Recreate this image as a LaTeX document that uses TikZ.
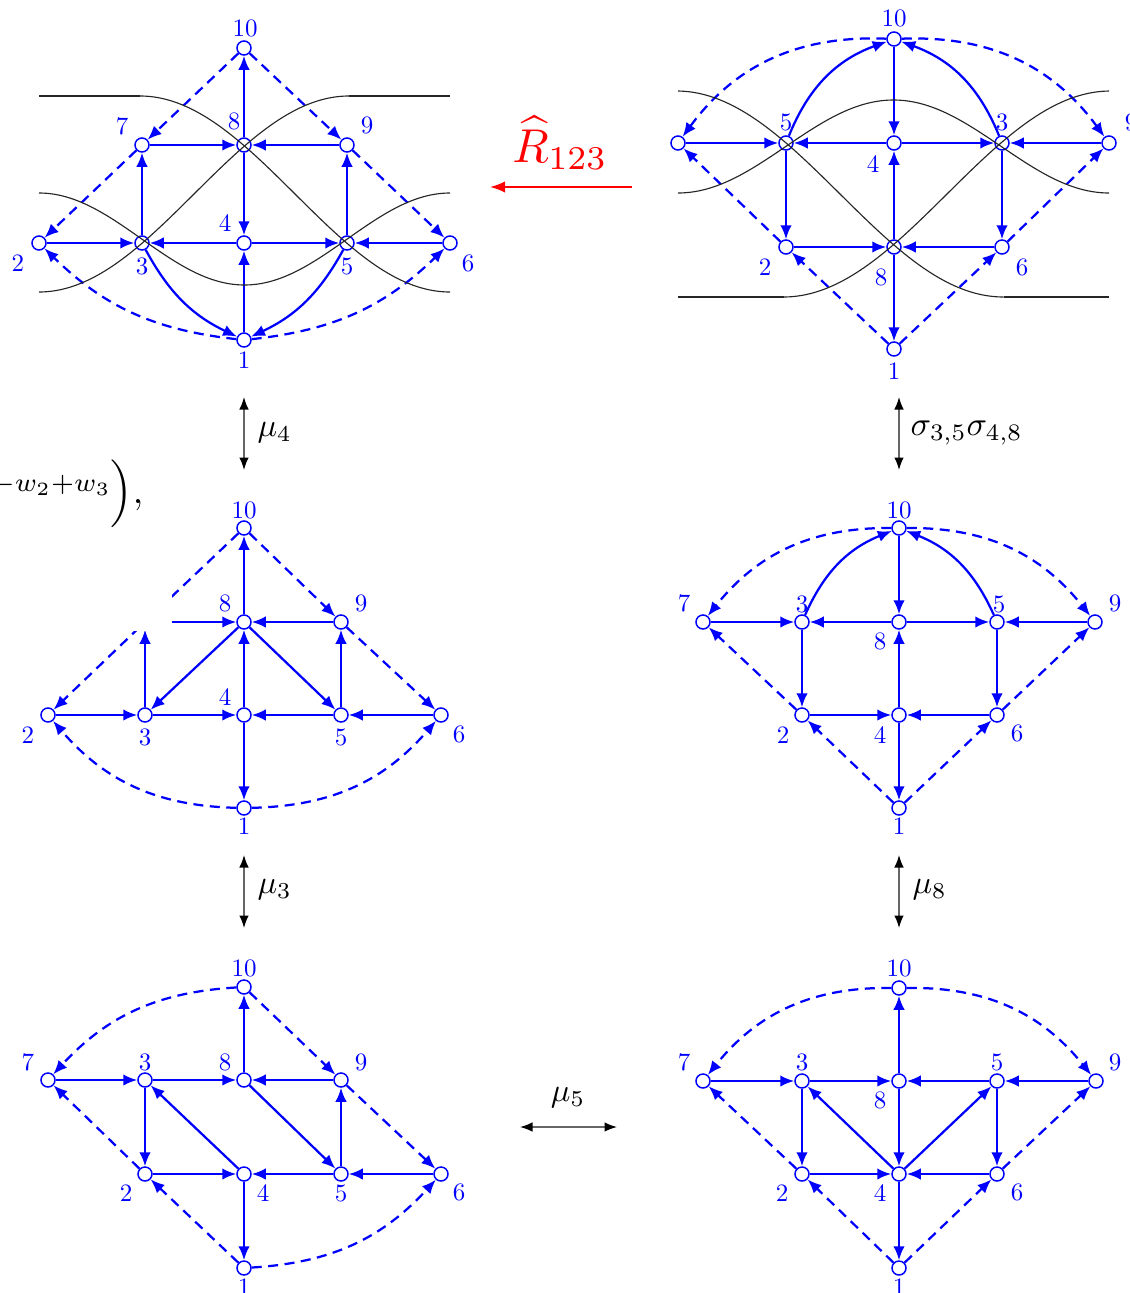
\documentclass[tikz,border=0pt]{standalone}
\usepackage{amsmath}
\usetikzlibrary{arrows.meta}
\begin{document}
\begin{tikzpicture}[x=0.4pt,y=0.4pt,
  vtx/.style={circle,draw=blue,fill=white,line width=0.6pt,minimum size=5.6pt,inner sep=0pt},
  lbl/.style={text=blue,inner sep=0pt},
  qe/.style={draw=blue,line width=0.9pt,-{Latex[length=5.6pt,width=4.6pt]}},
  qd/.style={qe,dash pattern=on 4pt off 2.6pt},
  kc/.style={draw=black!85,line width=0.45pt},
  mut/.style={draw=black!60,line width=0.55pt,{Latex[length=5pt,width=3.8pt,black]}-{Latex[length=5pt,width=3.8pt,black]}},
  mlbl/.style={scale=1.3,inner sep=0pt},
]
\fill[white] (0,0) rectangle (1130,-1293);
\useasboundingbox (0,0) rectangle (1130,-1293);

% ---------- Graph A (top left) ----------
\foreach \n/\x/\y/\lx/\ly in {10/244/48/245/28, 7/142/145/122/126, 8/244/145/234/121, 9/347/145/367/125, 2/39/243/18/263, 3/142/243/142/266, 4/244/243/225/223, 5/347/243/347/266, 6/450/243/468/263, 1/244/340/244/360}
  {\node[vtx] (A\n) at (\x,-\y) {}; \node[lbl] (lA\n) at (\lx,-\ly) {\n};}
\foreach \a/\b in {8/10,8/4,7/8,9/8,3/7,5/9,2/3,4/3,4/5,6/5,1/4} \draw[qe] (A\a) -- (A\b);
\foreach \a/\b in {10/7,10/9,7/2,9/6} \draw[qd] (A\a) -- (A\b);
\draw[qe] (A3) to[bend right=18] (A1);
\draw[qe] (A5) to[bend left=18] (A1);
\draw[qd] (A1) to[bend left=19] (A2);
\draw[qd] (A1) to[bend right=19] (A6);
\draw[kc] (39,-96) -- (140,-96);
\draw[kc] plot[domain=140:450,samples=90] (\x,{-(194-98*cos((\x-140)/310*180))});
\draw[kc] plot[domain=39:349,samples=90] (\x,{-(194-98*cos((349-\x)/310*180))});
\draw[kc] (349,-96) -- (450,-96);
\draw[kc] plot[domain=39:450,samples=120] (\x,{-(239-46*cos((\x-39)/411*360))});

% ---------- Graph B (top right) ----------
\node[vtx] (B7) at (678,-143) {};
\foreach \n/\x/\y/\lx/\ly in {10/894/39/894/18, 5/786/143/786/122, 4/894/143/873/164, 3/1002/143/1002/122, 9/1109/143/1131/122, 2/786/247/765/267, 8/894/247/881/277, 6/1002/247/1022/267, 1/894/349/894/371}
  {\node[vtx] (B\n) at (\x,-\y) {}; \node[lbl] (lB\n) at (\lx,-\ly) {\n};}
\foreach \a/\b in {10/4,8/4,8/1,4/5,4/3,7/5,9/3,5/2,3/6,2/8,6/8} \draw[qe] (B\a) -- (B\b);
\foreach \a/\b in {1/2,1/6,2/7,6/9} \draw[qd] (B\a) -- (B\b);
\draw[qe] (B5) to[bend left=24] (B10);
\draw[qe] (B3) to[bend right=24] (B10);
\draw[qd] (B10) to[bend right=28] (B7);
\draw[qd] (B10) to[bend left=28] (B9);
\draw[kc] plot[domain=678:1109,samples=120] (\x,{-(146.5+46.5*cos((\x-678)/431*360))});
\draw[kc] plot[domain=678:1003.5,samples=90] (\x,{-(194-103*cos((\x-676.5)/327*180))});
\draw[kc] (1003.5,-297) -- (1109,-297);
\draw[kc] plot[domain=783.5:1109,samples=90] (\x,{-(194-103*cos((1110.5-\x)/327*180))});
\draw[kc] (678,-297) -- (783.5,-297);

% ---------- Graph C (middle left) ----------
\node[vtx] (C7) at (145,-622) {};
\foreach \n/\x/\y/\lx/\ly in {10/244/528/244/510, 8/244/622/225/603, 9/341/622/361/603, 2/48/715/28/735, 3/145/715/145/737, 4/244/715/225/697, 5/341/715/341/737, 6/441/715/459/734, 1/244/808/244/826}
  {\node[vtx] (C\n) at (\x,-\y) {}; \node[lbl] (lC\n) at (\lx,-\ly) {\n};}
\foreach \a/\b in {8/10,7/8,9/8,3/7,8/3,8/5,4/8,2/3,3/4,5/4,6/5,5/9,4/1} \draw[qe] (C\a) -- (C\b);
\foreach \a/\b in {10/7,10/9,7/2,9/6} \draw[qd] (C\a) -- (C\b);
\draw[qd] (C1) to[bend left=24] (C2);
\draw[qd] (C1) to[bend right=24] (C6);
\fill[white] (0,-550) rectangle (172,-631);

% ---------- Graph D (middle right) ----------
\foreach \n/\x/\y/\lx/\ly in {10/899/528/899/510, 7/703/622/684/603, 3/802/622/802/604, 8/899/622/880/641, 5/997/622/999/604, 9/1095/622/1115/603, 2/802/715/783/735, 4/899/715/880/735, 6/997/715/1017/733, 1/899/808/899/826}
  {\node[vtx] (D\n) at (\x,-\y) {}; \node[lbl] (lD\n) at (\lx,-\ly) {\n};}
\foreach \a/\b in {10/8,4/8,4/1,8/3,8/5,7/3,9/5,3/2,5/6,2/4,6/4} \draw[qe] (D\a) -- (D\b);
\foreach \a/\b in {2/7,6/9,1/2,1/6} \draw[qd] (D\a) -- (D\b);
\draw[qe] (D3) to[bend left=22] (D10);
\draw[qe] (D5) to[bend right=22] (D10);
\draw[qd] (D10) to[bend right=26] (D7);
\draw[qd] (D10) to[bend left=26] (D9);

% ---------- Graph E (bottom left) ----------
\foreach \n/\x/\y/\lx/\ly in {10/244/987/244/968, 7/48/1080/28/1062, 3/145/1080/145/1062, 8/244/1080/225/1062, 9/341/1080/361/1062, 2/145/1174/126/1193, 4/244/1174/263/1193, 5/341/1174/341/1193, 6/441/1174/459/1192, 1/244/1268/244/1287}
  {\node[vtx] (E\n) at (\x,-\y) {}; \node[lbl] (lE\n) at (\lx,-\ly) {\n};}
\foreach \a/\b in {8/10,7/3,3/8,9/8,3/2,4/3,8/5,5/9,2/4,5/4,6/5,4/1} \draw[qe] (E\a) -- (E\b);
\foreach \a/\b in {10/9,9/6,2/7,1/2} \draw[qd] (E\a) -- (E\b);
\draw[qd] (E10) to[bend right=22] (E7);
\draw[qd] (E1) to[bend right=22] (E6);

% ---------- Graph F (bottom right) ----------
\foreach \n/\x/\y/\lx/\ly in {10/899/988/899/968, 7/703/1081/684/1062, 3/802/1081/802/1062, 8/899/1081/880/1100, 5/997/1081/997/1062, 9/1096/1081/1115/1062, 2/802/1174/782/1193, 4/899/1174/880/1193, 6/997/1174/1017/1192, 1/899/1268/899/1287}
  {\node[vtx] (F\n) at (\x,-\y) {}; \node[lbl] (lF\n) at (\lx,-\ly) {\n};}
\foreach \a/\b in {8/10,8/4,4/1,4/3,4/5,7/3,3/8,5/8,9/5,3/2,5/6,2/4,6/4} \draw[qe] (F\a) -- (F\b);
\foreach \a/\b in {2/7,6/9,1/2,1/6} \draw[qd] (F\a) -- (F\b);
\draw[qd] (F10) to[bend right=26] (F7);
\draw[qd] (F10) to[bend left=26] (F9);

% ---------- transformation arrows ----------
\coordinate (m4a) at (244,-397); \coordinate (m4b) at (244,-470);
\draw[mut] (m4a) -- (m4b);
\node[mlbl,anchor=west] (m4l) at (257,-433) {$\mu_4$};
\coordinate (sga) at (899,-397); \coordinate (sgb) at (899,-470);
\draw[mut] (sga) -- (sgb);
\node[mlbl,anchor=west,scale=1.04] (sgl) at (910,-433) {$\sigma_{3,5}\sigma_{4,8}$};
\coordinate (m3a) at (244,-855); \coordinate (m3b) at (244,-928);
\draw[mut] (m3a) -- (m3b);
\node[mlbl,anchor=west] (m3l) at (257,-890) {$\mu_3$};
\coordinate (m8a) at (899,-855); \coordinate (m8b) at (899,-928);
\draw[mut] (m8a) -- (m8b);
\node[mlbl,anchor=west] (m8l) at (912,-890) {$\mu_8$};
\coordinate (m5a) at (520,-1127); \coordinate (m5b) at (617,-1127);
\draw[mut] (m5a) -- (m5b);
\node[mlbl] (m5l) at (568,-1098) {$\mu_5$};
\coordinate (ra) at (632,-187); \coordinate (rb) at (490,-187);
\draw[red,line width=0.8pt,-{Latex[length=6pt,width=4.6pt]}] (ra) -- (rb);
\node[text=red,inner sep=0pt,scale=1.9] (rl) at (560,-143) {$\widehat{R}_{123}$};

% ---------- text fragment at left ----------
\node[anchor=base east,inner sep=0pt,scale=1.5] (frag) at (144,-503) {$\raisebox{3pt}{$\scriptstyle -w_2+w_3$}\Bigr),$};
\end{tikzpicture}
\end{document}
